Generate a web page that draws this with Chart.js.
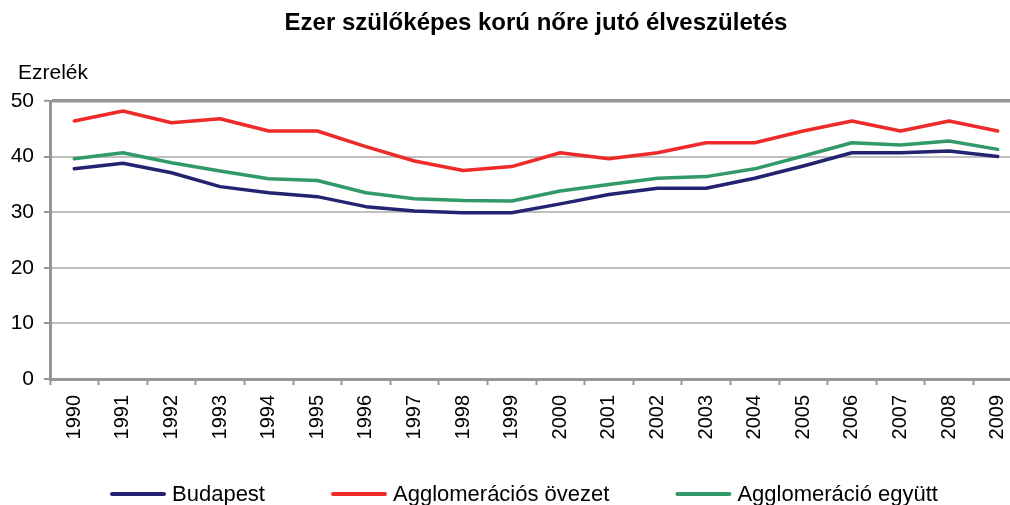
<!DOCTYPE html>
<html>
<head>
<meta charset="utf-8">
<script src="https://cdn.jsdelivr.net/npm/chart.js@4.4.1/dist/chart.umd.min.js"></script>
<style>
    html, body { margin: 0; padding: 0; background: #fff; overflow: hidden; width: 1010px; height: 505px; }
    #chart { position: absolute; left: 0; top: 0; }
</style>
</head>
<body>
<canvas id="chart" width="1048" height="505"></canvas>
<script>
const years = ['1990', '1991', '1992', '1993', '1994', '1995', '1996', '1997', '1998', '1999',
               '2000', '2001', '2002', '2003', '2004', '2005', '2006', '2007', '2008', '2009'];
const budapest = [37.8, 38.8, 37.1, 34.6, 33.5, 32.8, 31.0, 30.2, 29.9, 29.9,
                  31.5, 33.2, 34.3, 34.3, 36.1, 38.3, 40.7, 40.7, 41.0, 40.0];
const agglOvezet = [46.4, 48.2, 46.1, 46.8, 44.6, 44.6, 41.8, 39.2, 37.5, 38.2,
                    40.7, 39.6, 40.7, 42.5, 42.5, 44.6, 46.4, 44.6, 46.4, 44.6];
const agglEgyutt = [39.6, 40.7, 38.9, 37.4, 36.0, 35.7, 33.5, 32.4, 32.1, 32.0,
                    33.8, 35.0, 36.1, 36.4, 37.8, 40.1, 42.5, 42.1, 42.8, 41.3];
const seriesNames = ['Budapest', 'Agglomerációs övezet', 'Agglomeráció együtt'];
const yTicks = [0, 10, 20, 30, 40, 50];
const unitLabel = 'Ezrelék';

const FONT = "'Liberation Sans', Arial, sans-serif";
const colors = ['#232372', '#ee2a2a', '#319a68'];

// unit text over the y axis and the legend, drawn by hand
// so the legend can sit half below the picture like the original
const extras = {
    id: 'extras',
    afterDraw(chart) {
        const ctx = chart.ctx;
        ctx.save();
        ctx.fillStyle = '#000';
        ctx.textAlign = 'left';
        ctx.textBaseline = 'alphabetic';
        ctx.font = '21px ' + FONT;
        ctx.fillText(unitLabel, 18, 79);

        ctx.font = '22px ' + FONT;
        const lineLen = 56, gapText = 6, gapItem = 66;
        const widths = chart.data.datasets.map(d => lineLen + gapText + ctx.measureText(d.label).width);
        const total = widths.reduce((a, b) => a + b, 0) + gapItem * (widths.length - 1);
        let x = chart.width / 2 - total / 2;
        const y = 494;
        chart.data.datasets.forEach((d, i) => {
            ctx.strokeStyle = d.borderColor;
            ctx.lineWidth = 4;
            ctx.lineCap = 'round';
            ctx.beginPath();
            ctx.moveTo(x + 2, y);
            ctx.lineTo(x + lineLen - 2, y);
            ctx.stroke();
            ctx.fillText(d.label, x + lineLen + gapText, 501);
            x += widths[i] + gapItem;
        });
        ctx.restore();
    }
};

const ctx = document.getElementById('chart').getContext('2d');
new Chart(ctx, {
    type: 'line',
    data: {
        labels: years,
        datasets: [
            { label: seriesNames[0], data: budapest, borderColor: colors[0] },
            { label: seriesNames[1], data: agglOvezet, borderColor: colors[1] },
            { label: seriesNames[2], data: agglEgyutt, borderColor: colors[2] }
        ].map(d => Object.assign(d, {
            borderWidth: 3.5,
            pointRadius: 0,
            tension: 0,
            fill: false,
            borderJoinStyle: 'round',
            borderCapStyle: 'round'
        }))
    },
    options: {
        responsive: false,
        animation: false,
        devicePixelRatio: 1,
        layout: { padding: { left: 0, right: 26, top: 0, bottom: 0 } },
        plugins: {
            legend: { display: false },
            tooltip: { enabled: false },
            title: {
                display: true,
                text: 'Ezer szülőképes korú nőre jutó élveszületés',
                fullSize: false,
                color: '#000',
                font: { family: FONT, size: 24, weight: 'bold', lineHeight: 1.2 },
                padding: { top: 9.1, bottom: 63.1 }
            }
        },
        scales: {
            x: {
                offset: true,
                grid: {
                    offset: true,
                    drawOnChartArea: false,
                    drawTicks: true,
                    tickLength: 6,
                    tickColor: '#969696',
                    tickWidth: 2
                },
                border: { display: true, color: '#969696', width: 3 },
                ticks: {
                    minRotation: 90,
                    maxRotation: 90,
                    autoSkip: false,
                    padding: 10,
                    color: '#000',
                    font: { family: FONT, size: 20 }
                },
                afterFit(scale) { scale.height = 126; }
            },
            y: {
                min: 0,
                max: 50,
                afterBuildTicks(scale) { scale.ticks = yTicks.map(v => ({ value: v })); },
                grid: {
                    color: c => (c.tick && c.tick.value === 50) ? '#969696' : '#c0c0c0',
                    lineWidth: c => (c.tick && c.tick.value === 50) ? 3.5 : 2,
                    tickLength: 6,
                    tickColor: '#969696',
                    tickWidth: 2
                },
                border: { display: true, color: '#969696', width: 3 },
                ticks: {
                    padding: 10,
                    color: '#000',
                    font: { family: FONT, size: 21 }
                },
                afterFit(scale) { scale.width = 50; }
            }
        }
    },
    plugins: [extras]
});
</script>
</body>
</html>
